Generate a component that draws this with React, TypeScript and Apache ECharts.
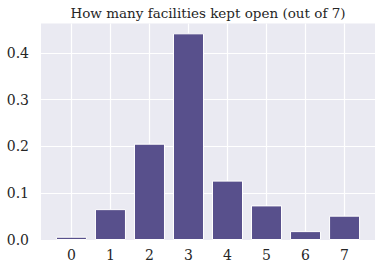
import React, { useEffect, useRef } from "react";
import * as echarts from "echarts";

const categories = [0, 1, 2, 3, 4, 5, 6, 7];
const shares = [0.007, 0.066, 0.206, 0.442, 0.127, 0.074, 0.019, 0.052];
const yTicks = [0, 0.1, 0.2, 0.3, 0.4];
const titleText = "How many facilities kept open (out of 7)";

const FONT = "DejaVu Serif";
const TEXT = "#262626";

export default function App() {
  const ref = useRef<HTMLDivElement>(null);
  useEffect(() => {
    const chart = echarts.init(ref.current!, null, { renderer: "svg" });
    chart.setOption({
      animation: false,
      backgroundColor: "#ffffff",
      graphic: [
        {
          type: "text",
          x: 208,
          y: 13,
          style: {
            text: titleText,
            fontFamily: FONT,
            fontSize: 13.5,
            fill: TEXT,
            textAlign: "center",
            textVerticalAlign: "middle",
          },
        },
      ],
      grid: {
        left: 41,
        right: 12,
        top: 23.5,
        bottom: 31,
        show: true,
        backgroundColor: "#EAEAF2",
        borderWidth: 0,
      },
      xAxis: {
        type: "value",
        min: -0.78,
        max: 7.78,
        axisLine: { show: false },
        axisTick: { show: false, customValues: categories },
        axisLabel: {
          customValues: categories,
          fontFamily: FONT,
          fontSize: 14,
          color: TEXT,
          margin: 8,
        },
        splitLine: { show: true, lineStyle: { color: "#ffffff", width: 1.2 } },
      },
      yAxis: {
        type: "value",
        min: 0,
        max: 0.463,
        axisLine: { show: false },
        axisTick: { show: false, customValues: yTicks },
        axisLabel: {
          customValues: yTicks,
          formatter: (v: number) => v.toFixed(1),
          fontFamily: FONT,
          fontSize: 14,
          color: TEXT,
          margin: 12,
        },
        splitLine: { show: true, lineStyle: { color: "#ffffff", width: 1.2 } },
      },
      series: [
        {
          type: "bar",
          data: categories.map((c, i) => [c, shares[i]]),
          barWidth: 31,
          itemStyle: { color: "#58508c", borderColor: "#ffffff", borderWidth: 1 },
        },
      ],
    });
    return () => chart.dispose();
  }, []);
  return <div ref={ref} style={{ width: 387, height: 271, position: "absolute", left: 0, top: 0 }} />;
}
